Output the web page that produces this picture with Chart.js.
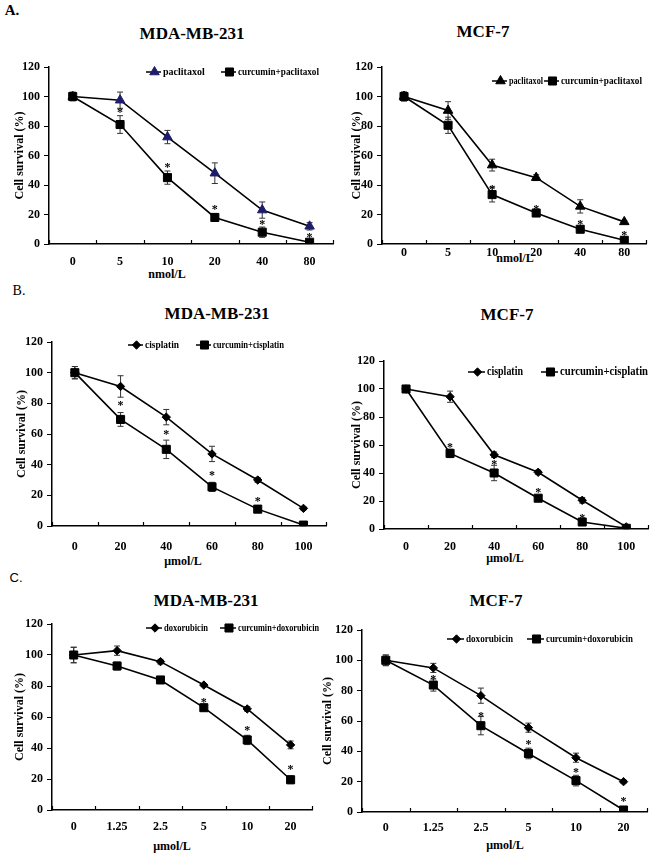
<!DOCTYPE html>
<html><head><meta charset="utf-8">
<script src="https://cdn.jsdelivr.net/npm/chart.js@4.4.1/dist/chart.umd.min.js"></script>
<style>
html,body{margin:0;padding:0;background:#fff;}
body{width:651px;height:854px;position:relative;overflow:hidden;font-family:"Liberation Serif","Times New Roman",serif;}
canvas{position:absolute;}
.t{position:absolute;font-weight:bold;color:#000;white-space:nowrap;transform:translate(-50%,-50%);line-height:1;}
</style></head><body>
<div class="t" style="left:12px;top:10px;font-size:15px">A.</div>
<div class="t" style="left:19px;top:291px;font-size:14px;font-weight:normal">B.</div>
<div class="t" style="left:16px;top:577px;font-size:13px;font-weight:normal;font-family:'Liberation Sans',Arial,sans-serif">C.</div>
<div class="t" style="left:192px;top:33px;font-size:17px">MDA-MB-231</div>
<div class="t" style="left:483px;top:31px;font-size:17px">MCF-7</div>
<div class="t" style="left:217px;top:313px;font-size:17px">MDA-MB-231</div>
<div class="t" style="left:507px;top:314px;font-size:17px">MCF-7</div>
<div class="t" style="left:206px;top:600px;font-size:17px">MDA-MB-231</div>
<div class="t" style="left:496px;top:600px;font-size:17px">MCF-7</div>
<div class="t" style="left:167px;top:274px;font-size:12px">nmol/L</div>
<div class="t" style="left:515px;top:258px;font-size:12px">nmol/L</div>
<div class="t" style="left:183px;top:561px;font-size:12px">μmol/L</div>
<div class="t" style="left:505px;top:558px;font-size:12px">μmol/L</div>
<div class="t" style="left:172px;top:846px;font-size:12px">μmol/L</div>
<div class="t" style="left:505px;top:845px;font-size:12px">μmol/L</div>
<script>
// ---------- data ----------
const doseNmol = ['0', '5', '10', '20', '40', '80'];
const doseCis = ['0', '20', '40', '60', '80', '100'];
const doseDox = ['0', '1.25', '2.5', '5', '10', '20'];

// A. paclitaxol - MDA-MB-231
const aMdaPac = [100, 97.5, 72.5, 48, 23, 12];
const aMdaPacErr = [3, 5.5, 4.5, 7, 5.5, 2.5];
const aMdaCur = [100, 81, 45, 18, 8, 1.2];
const aMdaCurErr = [2.5, 6, 4.5, 2.5, 3.5, 1];
const aMdaStar = [null, 90.8, 53.6, 25.4, 15.3, 6.3];
// A. paclitaxol - MCF-7
const aMcfPac = [100, 90.5, 53.5, 45, 25.5, 15];
const aMcfPacErr = [3, 6, 4, 2, 4.5, 1];
const aMcfCur = [100, 80.5, 33.5, 21, 10, 2.5];
const aMcfCurErr = [3, 5.5, 5, 2, 2, 2];
const aMcfStar = [null, null, 39, 25.3, 15.1, 7.2];
// B. cisplatin - MDA-MB-231
const bMdaCis = [100, 91, 71, 47, 30, 11.5];
const bMdaCisErr = [4, 7, 5, 5, 1.5, 1];
const bMdaCur = [100, 69.5, 50, 25.5, 11, 0.6];
const bMdaCurErr = [4, 4.5, 6, 3, 1, 1];
const bMdaStar = [null, 80, 61.5, 34.4, 17.6, null];
// B. cisplatin - MCF-7
const bMcfCis = [100, 94.5, 53, 40.5, 20.5, 1.5];
const bMcfCisErr = [1, 4, 2, 1.5, 2, 1];
const bMcfCur = [100, 54, 40, 22, 5, 0.5];
const bMcfCurErr = [1, 3, 5.5, 2, 1, 0.5];
const bMcfStar = [null, 60, 48.1, 27.9, 9.5, null];
// C. doxorubicin - MDA-MB-231
const cMdaDox = [100, 102.8, 95.7, 80.6, 65.2, 42];
const cMdaDoxErr = [5, 3, 1.5, 1, 1.5, 2.5];
const cMdaCur = [100, 92.9, 83.9, 66, 45.2, 19.5];
const cMdaCurErr = [5, 2.5, 2, 2, 3, 2.5];
const cMdaStar = [null, null, null, 71, 53.1, 28];
// C. doxorubicin - MCF-7
const cMcfDox = [100, 95, 76.7, 55.6, 35.8, 20];
const cMcfDoxErr = [3.5, 3, 5, 3, 3, 1];
const cMcfCur = [100, 83.7, 56.9, 38.6, 20.7, 1.3];
const cMcfCurErr = [3.5, 4, 6, 3.5, 3.5, 1];
const cMcfStar = [null, 89.2, 64.6, 46.3, 27.7, 8.4];

const yMin = 0, yMax = 120, yStep = 20;
const yTitle = 'Cell survival (%)';

// ---------- layout ----------
const FONT = '"Liberation Serif", "Times New Roman", serif';
const panels = [
  {L:49, R:334, T:67, B:244, yTitleX:20, xPad:11, labels:doseNmol,
   drug:{label:'paclitaxol', data:aMdaPac, err:aMdaPacErr, style:'triangle', r:5.5, color:'#1d1d6b'},
   comb:{label:'curcumin+paclitaxol', data:aMdaCur, err:aMdaCurErr},
   stars:aMdaStar, leg:{y:72, x1:146, w1:43, x2:221, w2:81, size:10, len:15}},
  {L:382, R:647, T:67, B:244, yTitleX:357, xPad:2, labels:doseNmol,
   drug:{label:'paclitaxol', data:aMcfPac, err:aMcfPacErr, style:'triangle', r:5.5, color:'#000'},
   comb:{label:'curcumin+paclitaxol', data:aMcfCur, err:aMcfCurErr},
   stars:aMcfStar, leg:{y:81, x1:492, w1:34, x2:544, w2:81, size:10, len:15}},
  {L:52, R:327, T:342, B:526, yTitleX:22, xPad:14, labels:doseCis,
   drug:{label:'cisplatin', data:bMdaCis, err:bMdaCisErr, style:'rectRot', r:4.2, color:'#000'},
   comb:{label:'curcumin+cisplatin', data:bMdaCur, err:bMdaCurErr},
   stars:bMdaStar, leg:{y:345, x1:128, w1:34, x2:196, w2:71, size:10, len:15}},
  {L:384, R:649, T:361, B:529, yTitleX:357, xPad:11, labels:doseCis,
   drug:{label:'cisplatin', data:bMcfCis, err:bMcfCisErr, style:'rectRot', r:4.2, color:'#000'},
   comb:{label:'curcumin+cisplatin', data:bMcfCur, err:bMcfCurErr},
   stars:bMcfStar, leg:{y:372, x1:468, w1:36, x2:541, w2:88, size:11.5, len:17}},
  {L:52, R:313, T:624, B:810, yTitleX:20, xPad:10, labels:doseDox,
   drug:{label:'doxorubicin', data:cMdaDox, err:cMdaDoxErr, style:'rectRot', r:4.2, color:'#000'},
   comb:{label:'curcumin+doxorubicin', data:cMdaCur, err:cMdaCurErr},
   stars:cMdaStar, leg:{y:628, x1:146, w1:44, x2:220, w2:81, size:10, len:16}},
  {L:362, R:648, T:630, B:812, yTitleX:328, xPad:9, labels:doseDox,
   drug:{label:'doxorubicin', data:cMcfDox, err:cMcfDoxErr, style:'rectRot', r:4.2, color:'#000'},
   comb:{label:'curcumin+doxorubicin', data:cMcfCur, err:cMcfCurErr},
   stars:cMcfStar, leg:{y:639, x1:447, w1:47, x2:527, w2:87, size:10.5, len:17}}
];

function marker(ctx, style, x, y, r, color) {
  ctx.save();
  ctx.fillStyle = color; ctx.strokeStyle = color; ctx.lineWidth = 1;
  ctx.beginPath();
  if (style === 'rect') {
    const s = r * Math.SQRT1_2; ctx.rect(x - s, y - s, 2 * s, 2 * s);
  } else if (style === 'triangle') {
    let a = 0;
    for (let k = 0; k < 3; k++) {
      const px = x + Math.sin(a) * r, py = y - Math.cos(a) * r;
      if (k === 0) ctx.moveTo(px, py); else ctx.lineTo(px, py);
      a += 2 * Math.PI / 3;
    }
    ctx.closePath();
  } else {
    ctx.moveTo(x, y - r); ctx.lineTo(x + r, y); ctx.lineTo(x, y + r); ctx.lineTo(x - r, y); ctx.closePath();
  }
  ctx.fill(); ctx.stroke();
  ctx.restore();
}

function makeDeco(p, cl, ct) {
  return {
    id: 'deco',
    beforeDatasetsDraw(chart) {
      const ctx = chart.ctx, ys = chart.scales.y;
      ctx.save();
      ctx.strokeStyle = '#333'; ctx.lineWidth = 1;
      chart.data.datasets.forEach((ds, di) => {
        if (!ds.err) return;
        const meta = chart.getDatasetMeta(di);
        ds.data.forEach((v, i) => {
          const e = ds.err[i]; if (!e) return;
          const x = meta.data[i].x;
          const y1 = ys.getPixelForValue(v + e), y2 = ys.getPixelForValue(Math.max(0, v - e));
          ctx.beginPath();
          ctx.moveTo(x, y1); ctx.lineTo(x, y2);
          ctx.moveTo(x - 3, y1); ctx.lineTo(x + 3, y1);
          ctx.moveTo(x - 3, y2); ctx.lineTo(x + 3, y2);
          ctx.stroke();
        });
      });
      ctx.restore();
    },
    afterDatasetsDraw(chart) {
      const ctx = chart.ctx, xs = chart.scales.x, ys = chart.scales.y, a = chart.chartArea;
      ctx.save();
      // inward x tick marks at category boundaries
      ctx.strokeStyle = '#000'; ctx.lineWidth = 1.2;
      for (let k = 0; k <= p.labels.length; k++) {
        const x = Math.round(xs.getPixelForValue(k - 0.5)) + 0.5;
        ctx.beginPath(); ctx.moveTo(x, a.bottom); ctx.lineTo(x, a.bottom - 4); ctx.stroke();
      }
      // significance asterisks
      ctx.fillStyle = '#000';
      ctx.font = 'bold 12px ' + FONT;
      ctx.textAlign = 'center'; ctx.textBaseline = 'middle';
      p.stars.forEach((v, i) => {
        if (v == null) return;
        ctx.fillText('*', xs.getPixelForValue(i), ys.getPixelForValue(v) + 3);
      });
      // legend
      const L = p.leg, items = [
        {ds: chart.data.datasets[1], x: L.x1, w: L.w1},
        {ds: chart.data.datasets[0], x: L.x2, w: L.w2}
      ];
      ctx.font = 'bold ' + L.size + 'px ' + FONT;
      ctx.textAlign = 'left'; ctx.textBaseline = 'middle';
      items.forEach(it => {
        const x = it.x - cl, y = L.y - ct;
        ctx.strokeStyle = '#000'; ctx.lineWidth = 1.5;
        ctx.beginPath(); ctx.moveTo(x, y); ctx.lineTo(x + L.len, y); ctx.stroke();
        marker(ctx, it.ds.pointStyle, x + L.len / 2 + 1, y, it.ds.pointRadius, it.ds.pointBackgroundColor);
        ctx.fillStyle = '#000';
        ctx.fillText(it.ds.label, x + L.len + 2, y + 0.5, it.w);
      });
      ctx.restore();
    }
  };
}

panels.forEach(p => {
  const cl = p.yTitleX - 10, ct = p.T - 14, cr = p.R + 6, cb = p.B + 36;
  const cv = document.createElement('canvas');
  cv.width = cr - cl; cv.height = cb - ct;
  cv.style.left = cl + 'px'; cv.style.top = ct + 'px';
  cv.style.width = (cr - cl) + 'px'; cv.style.height = (cb - ct) + 'px';
  document.body.appendChild(cv);
  const tickFont = {family: FONT, size: 12, weight: 'bold'};
  new Chart(cv, {
    type: 'line',
    data: {
      labels: p.labels,
      datasets: [
        {label: p.comb.label, data: p.comb.data, err: p.comb.err, order: 0,
         borderColor: '#000', borderWidth: 1.6, tension: 0, fill: false,
         pointStyle: 'rect', pointRadius: 5.7, pointBackgroundColor: '#000', pointBorderColor: '#000', pointBorderWidth: 1},
        {label: p.drug.label, data: p.drug.data, err: p.drug.err, order: 1,
         borderColor: '#000', borderWidth: 1.6, tension: 0, fill: false,
         pointStyle: p.drug.style, pointRadius: p.drug.r, pointBackgroundColor: p.drug.color, pointBorderColor: p.drug.color, pointBorderWidth: 1}
      ]
    },
    options: {
      responsive: false, animation: false, devicePixelRatio: 1,
      layout: {padding: {left: 0, top: p.T - ct, right: cr - p.R, bottom: 0}},
      plugins: {legend: {display: false}, tooltip: {enabled: false}},
      scales: {
        x: {
          type: 'category', offset: true,
          grid: {display: false, drawTicks: false},
          border: {display: true, color: '#000', width: 1.5},
          ticks: {color: '#000', font: tickFont, padding: p.xPad, maxRotation: 0, autoSkip: false},
          afterFit(s) { s.height = cb - p.B; }
        },
        y: {
          min: yMin, max: yMax,
          ticks: {stepSize: yStep, color: '#000', font: tickFont, padding: 4},
          grid: {drawOnChartArea: false, drawTicks: true, tickLength: 5, color: '#000', lineWidth: 1},
          border: {display: true, color: '#000', width: 1.5},
          title: {display: true, text: yTitle, color: '#000', font: {family: FONT, size: 12, weight: 'bold'}, padding: {top: 2.8, bottom: 0}},
          afterFit(s) { s.width = p.L - cl; }
        }
      }
    },
    plugins: [makeDeco(p, cl, ct)]
  });
});
</script>
</body></html>
